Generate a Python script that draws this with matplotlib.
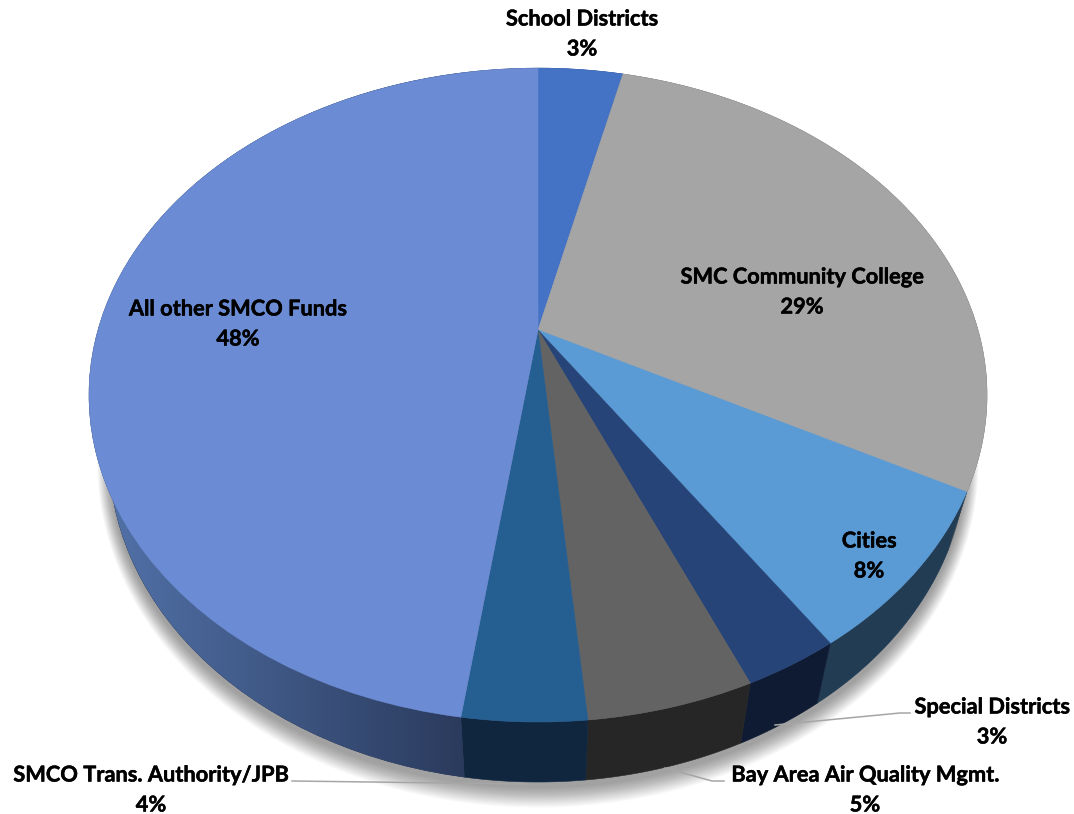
#!/usr/bin/python3
import numpy as np
import matplotlib.pyplot as plt
import matplotlib.patheffects as pe
from matplotlib.patches import Polygon
from matplotlib.transforms import Transform

names = ["School Districts", "SMC Community College", "Cities", "Special Districts",
         "Bay Area Air Quality Mgmt.", "SMCO Trans. Authority/JPB", "All other SMCO Funds"]
pct_labels = ["3%", "29%", "8%", "3%", "5%", "4%", "48%"]
# shares as measured from the slices, the printed labels are rounded differently
shares = [3.7, 29.05, 7.9, 2.9, 5.0, 3.7, 47.75]
top_colors = ["#4472c4", "#a5a5a5", "#5b9bd5", "#264478", "#636363", "#255e91", "#6b8cd4"]
wall_colors = ["#2a4478", "#636363", "#223c54", "#0f1b33", "#262626", "#10263f", "#2a3a5c"]
label_pos = [(582, 19), (802, 277), (869, 541), (992, 707), (865, 775), (151, 775), (238, 309)]

CX, CY = 538, 330
A, B, K = 440, 314, 0.199
SX, DY = 0.955, 60


def project(xy):
    x, y = xy[:, 0], xy[:, 1]
    d = 1 + K * y
    return np.column_stack((CX + A * x / d, CY - B * y / d))


def project_low(xy):
    p = project(xy)
    p[:, 0] = CX + SX * (p[:, 0] - CX)
    p[:, 1] = p[:, 1] + DY
    return p


class Perspective(Transform):
    input_dims = 2
    output_dims = 2

    def transform_non_affine(self, values):
        return project(np.asarray(values, float))


def arc(t1, t2, n=80):
    t = np.radians(np.linspace(t1, t2, n))
    return np.column_stack((np.cos(t), np.sin(t)))


fig = plt.figure(figsize=(10.74, 8.14), dpi=100)
ax = fig.add_axes([0, 0, 1, 1])
wedges, _ = ax.pie(shares, colors=top_colors, startangle=90, counterclock=False, radius=1,
                   wedgeprops={"linewidth": 0.4, "zorder": 5})
for w, c in zip(wedges, top_colors):
    w.set_edgecolor(c)
    w.set_transform(Perspective() + ax.transData)
ax.set_aspect("auto")
ax.set_xlim(0, 1074)
ax.set_ylim(814, 0)
ax.axis("off")

# soft shadow round the lower rim
circle = project_low(arc(0, 360, 240))
mid = circle.mean(axis=0)
for g in np.linspace(1, 0, 26):
    pts = mid + (circle - mid) * [1 + 0.028 * g, 1 + 0.055 * g] + [0, 6]
    ax.add_patch(Polygon(pts, closed=True, fc="black", ec="none", alpha=0.014, zorder=1))

# side walls
for w, c in zip(wedges, wall_colors):
    a = arc(w.theta1, w.theta2)
    pts = np.vstack((project(a), project_low(a)[::-1]))
    wall = Polygon(pts, closed=True, fc=c, ec=c, lw=0.4, zorder=2)
    ax.add_patch(wall)
    if w is wedges[-1]:
        grad = np.linspace(0, 1, 256).reshape(1, -1, 1)
        left = np.array([0x52, 0x72, 0xa9]) / 255
        right = np.array([0x2a, 0x3a, 0x5c]) / 255
        im = ax.imshow(left + (right - left) * grad, extent=(100, 468, 814, 0),
                       aspect="auto", zorder=3)
        im.set_clip_path(wall)
ax.set_xlim(0, 1074)
ax.set_ylim(814, 0)

# leader lines
ax.plot([775, 900, 910], [725, 713, 713], color="#a6a6a6", lw=1.1, zorder=6)
ax.plot([665, 712, 724], [768, 781, 781], color="#a6a6a6", lw=1.1, zorder=6)
ax.plot([292, 527], [781, 784], color="#a6a6a6", lw=1.1, zorder=6)

stroke = [pe.withStroke(linewidth=0.35, foreground="black")]
for name, pct, (x, y) in zip(names, pct_labels, label_pos):
    ax.text(x, y, name, ha="center", va="center", family="Lato", weight="bold",
            fontsize=15.7, color="black", zorder=7, path_effects=stroke)
    ax.text(x, y + 30, pct, ha="center", va="center", family="Lato", weight="bold",
            fontsize=15.7, color="black", zorder=7, path_effects=stroke)

plt.savefig("out.png", dpi=100)
